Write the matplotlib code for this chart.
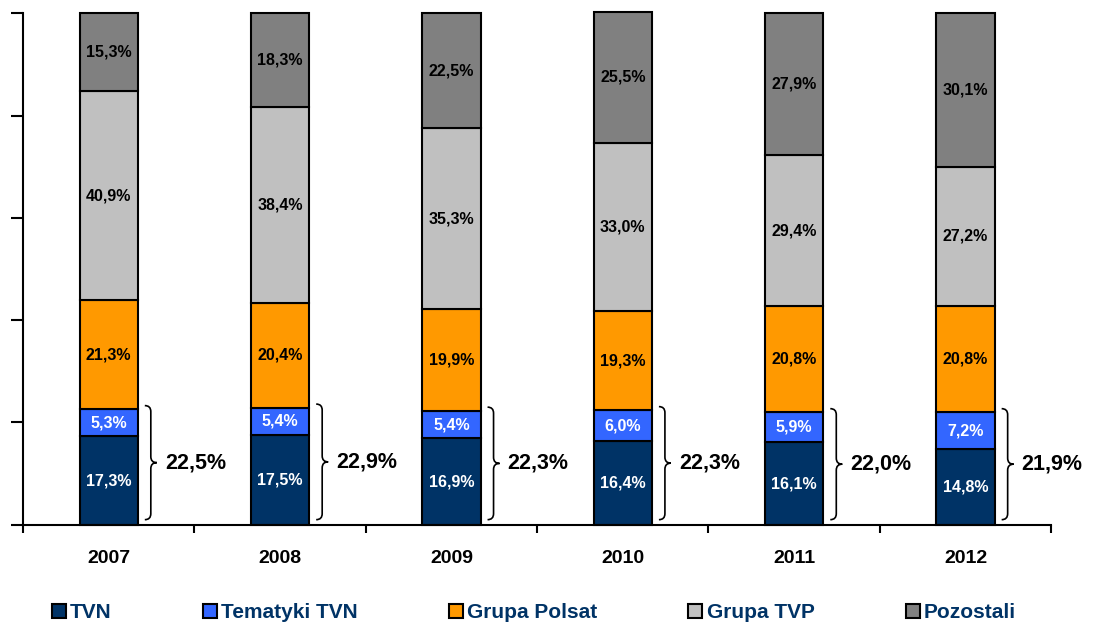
import matplotlib.pyplot as plt
import numpy as np
from matplotlib.path import Path
from matplotlib.patches import PathPatch
from matplotlib.lines import Line2D

# Dane
years = ['2007', '2008', '2009', '2010', '2011', '2012']
tvn = [17.3, 17.5, 16.9, 16.4, 16.1, 14.8]
tematyki = [5.3, 5.4, 5.4, 6.0, 5.9, 7.2]
polsat = [21.3, 20.4, 19.9, 19.3, 20.8, 20.8]
tvp = [40.9, 38.4, 35.3, 33.0, 29.4, 27.2]
pozostali = [15.3, 18.3, 22.5, 25.5, 27.9, 30.1]
brace_labels = ['22,5%', '22,9%', '22,3%', '22,3%', '22,0%', '21,9%']

series = [
    ('TVN', tvn, '#003366', 'white'),
    ('Tematyki TVN', tematyki, '#3366FF', 'white'),
    ('Grupa Polsat', polsat, '#FF9900', 'black'),
    ('Grupa TVP', tvp, '#C0C0C0', 'black'),
    ('Pozostali', pozostali, '#808080', 'black'),
]

fig = plt.figure(figsize=(10.95, 6.3), dpi=100)
ax = fig.add_axes([0.021, 0.167, 0.939, 0.812])

x = np.arange(len(years))
bar_w = 0.34
bottom = np.zeros(len(years))
for name, vals, color, tcolor in series:
    vals = np.array(vals)
    ax.bar(x, vals, bar_w, bottom=bottom, color=color, edgecolor='black',
           linewidth=1.5, label=name, clip_on=False, zorder=2)
    for xi, b, v in zip(x, bottom, vals):
        ax.text(xi, b + v / 2, f'{v:.1f}%'.replace('.', ','), ha='center', va='center',
                color=tcolor, fontsize=11.5, fontweight='bold', family='Liberation Sans', zorder=3)
    bottom += vals

ax.set_xlim(-0.5, len(years) - 0.5)
ax.set_ylim(0, 100)

# klamry
px_x = 1 / 171.3
px_y = 100 / 512.0


def brace(ax, xc, y0, y1):
    xa = xc + bar_w / 2 + 7 * px_x
    w = 6 * px_x
    r = 6 * px_y
    ym = (y0 + y1) / 2
    verts = [
        (xa, y0), (xa + w, y0), (xa + w, y0 + r),
        (xa + w, ym - r), (xa + w, ym), (xa + 2 * w, ym),
        (xa + w, ym), (xa + w, ym + r),
        (xa + w, y1 - r), (xa + w, y1), (xa, y1),
    ]
    codes = [Path.MOVETO, Path.CURVE3, Path.CURVE3,
             Path.LINETO, Path.CURVE3, Path.CURVE3,
             Path.CURVE3, Path.CURVE3,
             Path.LINETO, Path.CURVE3, Path.CURVE3]
    ax.add_patch(PathPatch(Path(verts, codes), fill=False, lw=1.2, edgecolor='black',
                           clip_on=False))
    return xa + 2 * w


for i, lab in enumerate(brace_labels):
    top = tvn[i] + tematyki[i]
    xe = brace(ax, x[i], 1.0, top + 0.7)
    ax.text(xe + 8 * px_x, (1.0 + top + 0.7) / 2, lab, ha='left', va='center',
            fontsize=15.5, fontweight='bold', family='Liberation Sans')

# osie
for s in ['top', 'right']:
    ax.spines[s].set_visible(False)
for s in ['left', 'bottom']:
    ax.spines[s].set_linewidth(1.5)
ax.set_yticks(np.arange(0, 101, 20))
ax.set_yticklabels([])
ax.tick_params(axis='y', length=9, width=1.5, direction='out')
ax.set_xticks(np.arange(-0.5, len(years), 1))
ax.set_xticklabels([])
ax.tick_params(axis='x', which='major', length=6, width=1.5, direction='out')
ax.set_xticks(x, minor=True)
ax.set_xticklabels(years, minor=True, fontsize=14, fontweight='bold', family='Liberation Sans')
ax.tick_params(axis='x', which='minor', length=0, pad=18)

handles = [Line2D([], [], marker='s', linestyle='none', markersize=10,
                  markerfacecolor=c, markeredgecolor='black', markeredgewidth=1.5)
           for _, _, c, _ in series]
leg = fig.legend(handles, [s[0] for s in series], loc='center', bbox_to_anchor=(0.488, 0.028),
                 ncol=5, frameon=False, handlelength=0.6, handletextpad=0.25,
                 columnspacing=4.4, prop={'family': 'Liberation Sans', 'weight': 'bold', 'size': 15})
for t in leg.get_texts():
    t.set_color('#003366')

fig.savefig('out.png', dpi=100)
